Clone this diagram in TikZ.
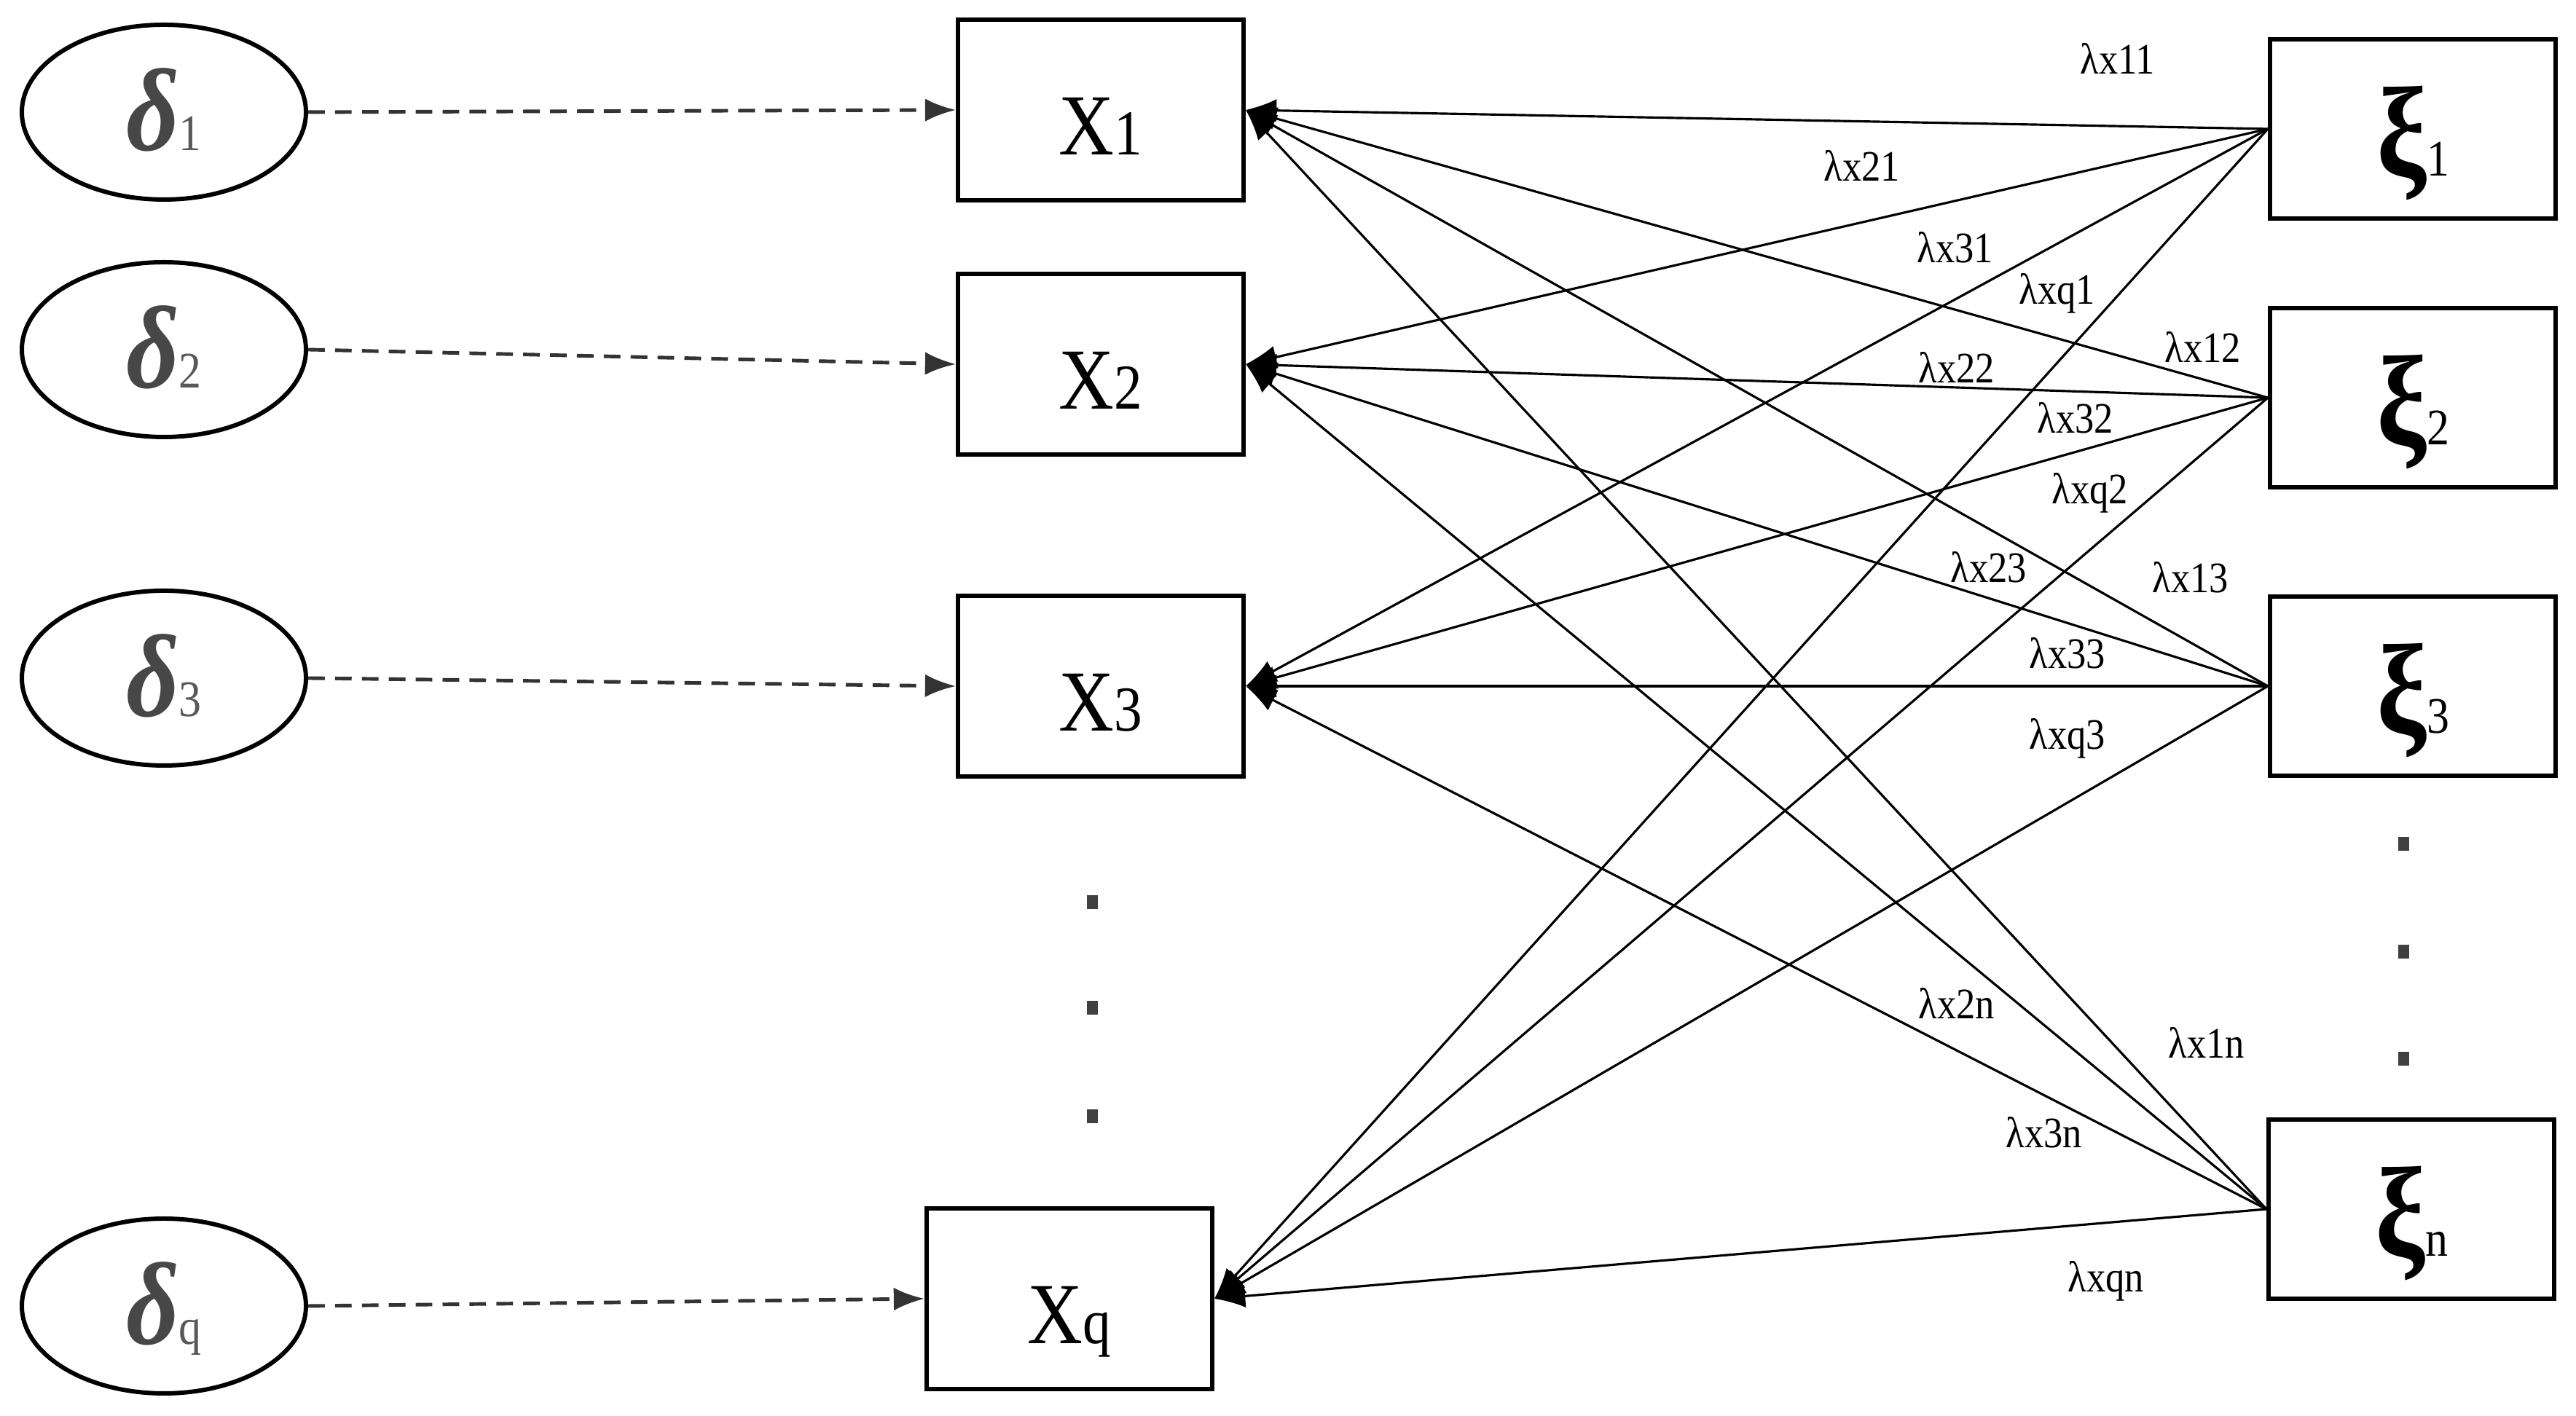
\documentclass[tikz,border=0pt]{standalone}
\usepackage{fontspec}
\setmainfont{Liberation Serif}[FakeStretch=0.88]
\usetikzlibrary{arrows.meta,shapes.geometric}

\newcommand{\errsym}[1]{{\color{black!72}\fontsize{46}{46}\selectfont\bfseries\itshape δ}{\color{black!65}\fontsize{20}{20}\selectfont #1}}
\newcommand{\obssym}[1]{{\fontsize{34}{34}\selectfont X}{\fontsize{25}{25}\selectfont #1}}
\newcommand{\latsym}[1]{{\fontsize{50}{50}\selectfont\bfseries ξ}{\fontsize{20}{20}\selectfont #1}}

\tikzset{
  errnode/.style={draw, ellipse, line width=1.7pt, minimum width=3.9cm, minimum height=2.4cm,
    inner sep=0pt, text height=1.06cm, text depth=0pt},
  obsbox/.style={draw, rectangle, line width=1.7pt, minimum width=3.92cm, minimum height=2.48cm,
    inner sep=0pt, text height=1.24cm, text depth=0pt},
  latbox/.style={draw, rectangle, line width=1.7pt, minimum width=3.92cm, minimum height=2.46cm,
    inner sep=0pt, text height=1.3cm, text depth=0pt},
  load/.style={->, line width=0.9pt},
  errarrow/.style={->, line width=1.4pt, black!80, dash pattern=on 6.5pt off 4pt},
  lbl/.style={inner sep=0pt, font=\fontsize{17}{17}\selectfont},
  dotmark/.style={fill=black!75, inner sep=0pt, minimum width=0.15cm, minimum height=0.19cm}
}

\begin{document}
\begin{tikzpicture}[>={Latex[length=12pt,width=9pt]}]
\useasboundingbox (0,0) rectangle (35.36,19.44);

% error terms
\node[errnode] (d1) at (2.25,17.90) {\errsym{1}};
\node[errnode] (d2) at (2.25,14.64) {\errsym{2}};
\node[errnode] (d3) at (2.25,10.13) {\errsym{3}};
\node[errnode] (dq) at (2.25,1.51) {\errsym{q}};

% observed variables
\node[obsbox] (X1) at (15.11,17.93) {\obssym{1}};
\node[obsbox] (X2) at (15.11,14.44) {\obssym{2}};
\node[obsbox] (X3) at (15.11,10.02) {\obssym{3}};
\node[obsbox] (Xq) at (14.68,1.61) {\obssym{q}};
\node[dotmark] (xdot1) at (14.99,7.05) {};
\node[dotmark] (xdot2) at (14.99,5.60) {};
\node[dotmark] (xdot3) at (14.99,4.11) {};

% latent variables
\node[latbox] (xi1) at (33.12,17.67) {\latsym{1}};
\node[latbox] (xi2) at (33.12,13.98) {\latsym{2}};
\node[latbox] (xi3) at (33.12,10.02) {\latsym{3}};
\node[latbox] (xin) at (33.10,2.84) {\latsym{n}};
\node[dotmark] (ldot1) at (32.99,7.85) {};
\node[dotmark] (ldot2) at (32.99,6.37) {};
\node[dotmark] (ldot3) at (32.99,4.90) {};

\draw[errarrow] (d1.east) -- (X1.west);
\draw[errarrow] (d2.east) -- (X2.west);
\draw[errarrow] (d3.east) -- (X3.west);
\draw[errarrow] (dq.east) -- (Xq.west);

\draw[load] (xi1.west) -- (X1.east);
\draw[load] (xi1.west) -- (X2.east);
\draw[load] (xi1.west) -- (X3.east);
\draw[load] (xi1.west) -- (Xq.east);
\draw[load] (xi2.west) -- (X1.east);
\draw[load] (xi2.west) -- (X2.east);
\draw[load] (xi2.west) -- (X3.east);
\draw[load] (xi2.west) -- (Xq.east);
\draw[load] (xi3.west) -- (X1.east);
\draw[load] (xi3.west) -- (X2.east);
\draw[load] (xi3.west) -- (X3.east);
\draw[load] (xi3.west) -- (Xq.east);
\draw[load] (xin.west) -- (X1.east);
\draw[load] (xin.west) -- (X2.east);
\draw[load] (xin.west) -- (X3.east);
\draw[load] (xin.west) -- (Xq.east);

% loadings
\node[lbl] (l11) at (29.07,18.63) {λx11};
\node[lbl] (l21) at (25.56,17.16) {λx21};
\node[lbl] (l31) at (26.84,16.04) {λx31};
\node[lbl] (lq1) at (28.24,15.41) {λxq1};
\node[lbl] (l12) at (30.24,14.68) {λx12};
\node[lbl] (l22) at (26.86,14.40) {λx22};
\node[lbl] (l32) at (28.49,13.70) {λx32};
\node[lbl] (lq2) at (28.69,12.67) {λxq2};
\node[lbl] (l23) at (27.30,11.65) {λx23};
\node[lbl] (l13) at (30.07,11.51) {λx13};
\node[lbl] (l33) at (28.38,10.47) {λx33};
\node[lbl] (lq3) at (28.38,9.30) {λxq3};
\node[lbl] (l2n) at (26.86,5.67) {λx2n};
\node[lbl] (l1n) at (30.29,5.13) {λx1n};
\node[lbl] (l3n) at (28.06,3.89) {λx3n};
\node[lbl] (lqn) at (28.91,1.85) {λxqn};
\end{tikzpicture}
\end{document}
